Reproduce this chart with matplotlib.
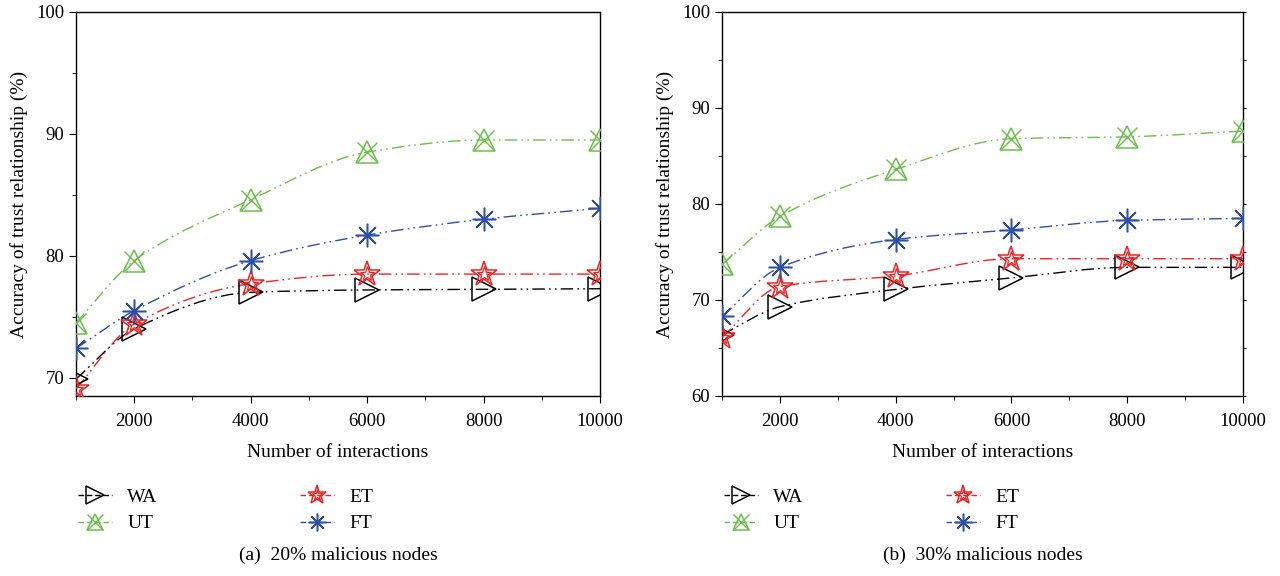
import numpy as np
import matplotlib
matplotlib.use("Agg")
import matplotlib.pyplot as plt
from matplotlib.path import Path
from matplotlib.patches import PathPatch
from matplotlib.lines import Line2D
from matplotlib.ticker import MultipleLocator

plt.rcParams['font.family'] = ['Liberation Serif', 'DejaVu Serif']

# 数据
interactions = [1000, 2000, 4000, 6000, 8000, 10000]
# (a) 20% malicious nodes
a_WA = [69.9, 74.0, 77.0, 77.2, 77.25, 77.3]
a_UT = [74.5, 79.6, 84.6, 88.5, 89.5, 89.5]
a_ET = [69.1, 74.4, 77.7, 78.5, 78.5, 78.5]
a_FT = [72.4, 75.5, 79.6, 81.7, 83.0, 83.9]
# (b) 30% malicious nodes
b_WA = [66.4, 69.3, 71.1, 72.3, 73.4, 73.4]
b_UT = [73.7, 78.7, 83.6, 86.8, 87.0, 87.6]
b_ET = [66.1, 71.4, 72.5, 74.3, 74.3, 74.3]
b_FT = [68.3, 73.4, 76.3, 77.3, 78.3, 78.5]

names = ['WA', 'UT', 'ET', 'FT']
colors = {'WA': 'black', 'UT': '#6abf4b', 'ET': '#ee2222', 'FT': '#2e4fa8'}
dashdotdot = (0, (9, 3, 1.2, 3, 1.2, 3))


def smooth_path(x, y):
    # 单调三次曲线 -> 贝塞尔路径（只用于画线）
    x = np.asarray(x, float)
    y = np.asarray(y, float)
    h = np.diff(x)
    d = np.diff(y) / h
    m = np.zeros_like(y)
    m[0], m[-1] = d[0], d[-1]
    for i in range(1, len(y) - 1):
        if d[i - 1] * d[i] <= 0:
            m[i] = 0
        else:
            w1 = 2 * h[i] + h[i - 1]
            w2 = h[i] + 2 * h[i - 1]
            m[i] = (w1 + w2) / (w1 / d[i - 1] + w2 / d[i])
    verts = [(x[0], y[0])]
    codes = [Path.MOVETO]
    for i in range(len(x) - 1):
        verts += [(x[i] + h[i] / 3, y[i] + m[i] * h[i] / 3),
                  (x[i + 1] - h[i] / 3, y[i + 1] - m[i + 1] * h[i] / 3),
                  (x[i + 1], y[i + 1])]
        codes += [Path.CURVE4] * 3
    return Path(verts, codes)


def draw_markers(ax, x, y, name, scale=1.0, zorder=4):
    c = colors[name]
    if name == 'WA':
        ax.plot(x, y, ls='none', marker='>', ms=17 * scale, mfc='none', mec=c, mew=1.1, zorder=zorder)
    elif name == 'UT':
        ax.plot(x, y, ls='none', marker='^', ms=16 * scale, mfc='none', mec=c, mew=1.1, zorder=zorder)
        ax.plot(x, y, ls='none', marker='x', ms=15 * scale, mfc='none', mec=c, mew=1.0, zorder=zorder)
    elif name == 'ET':
        ax.plot(x, y, ls='none', marker='*', ms=19 * scale, mfc='none', mec=c, mew=1.1, zorder=zorder)
        ax.plot(x, y, ls='none', marker='*', ms=11 * scale, mfc='none', mec=c, mew=0.9, zorder=zorder)
    elif name == 'FT':
        ax.plot(x, y, ls='none', marker=(8, 2, 0), ms=17 * scale, mec=c, mew=1.1, zorder=zorder)
        ax.plot(x, y, ls='none', marker='o', ms=3 * scale, mfc=c, mec=c, zorder=zorder)


def draw_panel(ax, series, ylim, yticks, caption, right_ticks):
    for name in ['WA', 'ET', 'FT', 'UT']:
        y = series[name]
        patch = PathPatch(smooth_path(interactions, y), fill=False, edgecolor=colors[name],
                          lw=1.0, linestyle=dashdotdot, zorder=3)
        ax.add_patch(patch)
        draw_markers(ax, interactions, y, name)
    ax.set_xlim(1000, 10000)
    ax.set_ylim(*ylim)
    ax.set_xticks([2000, 4000, 6000, 8000, 10000])
    ax.xaxis.set_minor_locator(MultipleLocator(1000))
    ax.set_yticks(yticks)
    ax.yaxis.set_minor_locator(MultipleLocator(5))
    ax.tick_params(axis='both', which='major', labelsize=13.5, length=5, direction='out')
    ax.tick_params(axis='both', which='minor', length=3, direction='out')
    ax.tick_params(axis='x', which='major', pad=7)
    if right_ticks:
        ax.tick_params(axis='y', which='both', right=True, labelright=False)
        for t in ax.yaxis.get_major_ticks() + ax.yaxis.get_minor_ticks():
            t.tick2line.set_markersize(2)
    for s in ax.spines.values():
        s.set_linewidth(1.0)
    ax.set_xlabel('Number of interactions', fontsize=14, labelpad=10)
    ax.set_ylabel('Accuracy of trust relationship (%)', fontsize=14, labelpad=6)

    handles = []
    for name in names:
        h = Line2D([0], [0], color=colors[name], lw=1.0, linestyle=(0, (4, 2)))
        handles.append(h)
    leg = ax.legend(handles=handles, labels=names, ncol=2, loc='upper left',
                    bbox_to_anchor=(-0.03, -0.195), frameon=False, fontsize=14,
                    handlelength=1.75, columnspacing=7.3, labelspacing=0.45, handletextpad=0.8)
    # 图例里的标记
    fig = ax.figure
    fig.canvas.draw()
    for name, line in zip(names, leg.get_lines()):
        xd, yd = line.get_xdata(), line.get_ydata()
        tr = line.get_transform()
        cx = (xd[0] + xd[-1]) / 2
        p = tr.transform((cx, yd[0]))
        inv = fig.transFigure.inverted().transform(p)
        tmp = fig.add_axes([inv[0] - 0.01, inv[1] - 0.02, 0.02, 0.04])
        tmp.set_xlim(-1, 1)
        tmp.set_ylim(-1, 1)
        tmp.axis('off')
        draw_markers(tmp, [0], [0], name, scale=0.75)
    ax.text(0.5, -0.415, caption, transform=ax.transAxes, ha='center', va='center', fontsize=14)


fig = plt.figure(figsize=(12.8, 5.76), dpi=100)
ax1 = fig.add_axes([76 / 1280, 1 - 396 / 576, 524 / 1280, 384 / 576])
ax2 = fig.add_axes([722 / 1280, 1 - 396 / 576, 521 / 1280, 384 / 576])

draw_panel(ax1, {'WA': a_WA, 'UT': a_UT, 'ET': a_ET, 'FT': a_FT}, (68.5, 100),
           [70, 80, 90, 100], '(a)  20% malicious nodes', False)
draw_panel(ax2, {'WA': b_WA, 'UT': b_UT, 'ET': b_ET, 'FT': b_FT}, (60, 100),
           [60, 70, 80, 90, 100], '(b)  30% malicious nodes', True)

plt.savefig('out.png', dpi=100)
